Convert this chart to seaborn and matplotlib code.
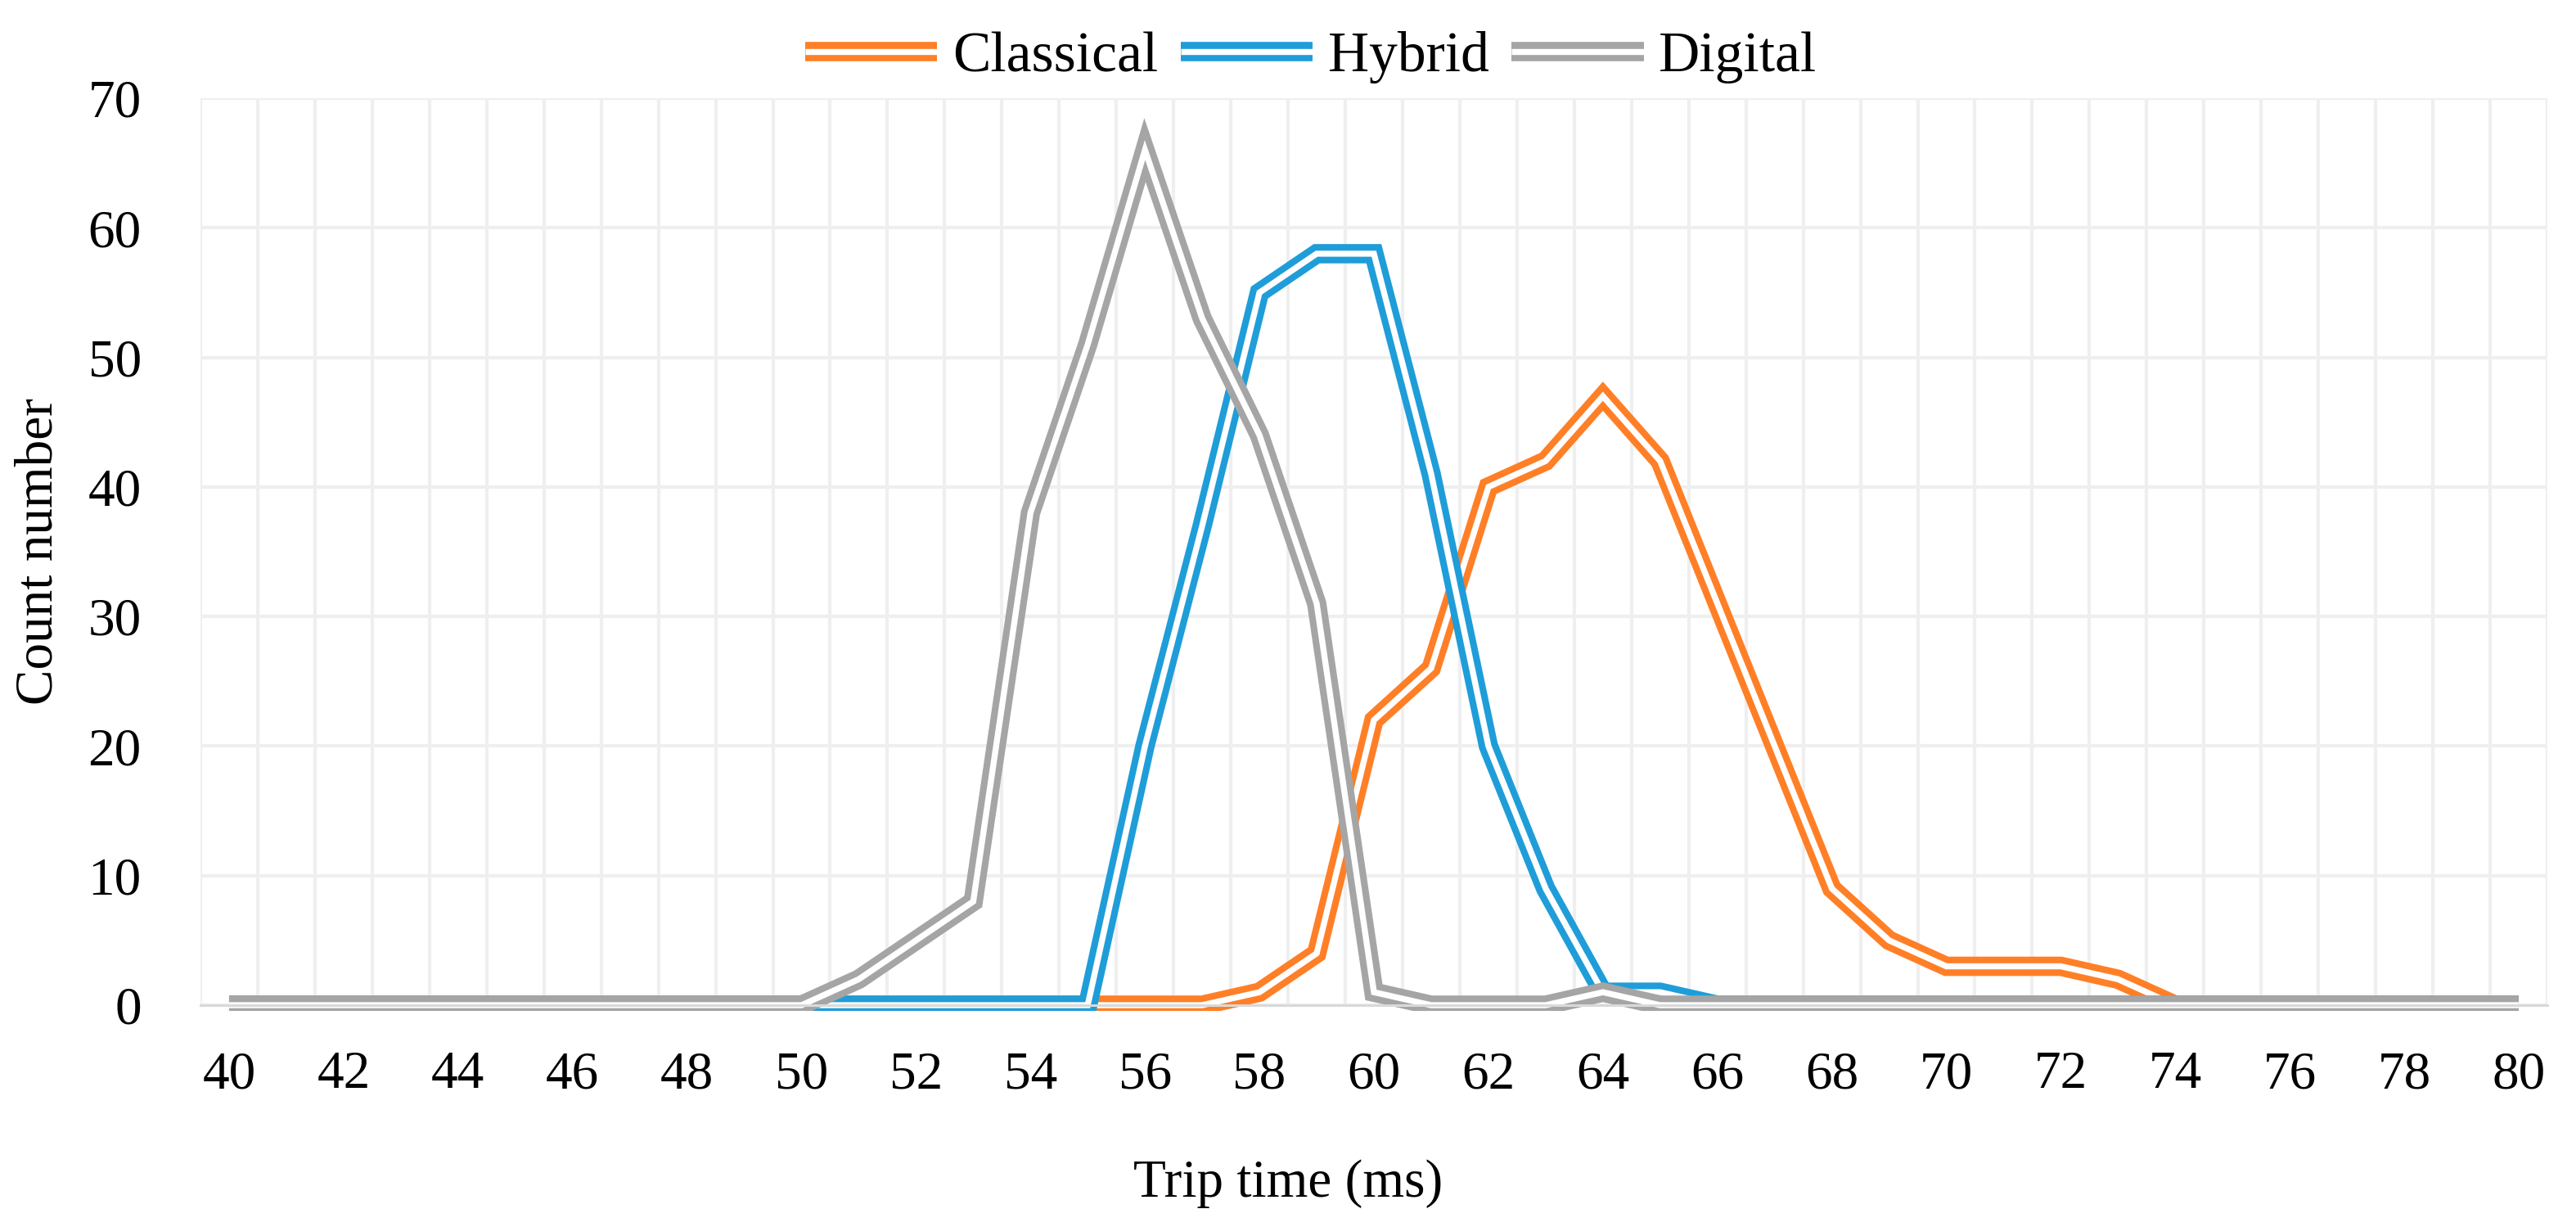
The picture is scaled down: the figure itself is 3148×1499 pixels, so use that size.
import matplotlib
matplotlib.use("Agg")
import numpy as np
import matplotlib.pyplot as plt
import seaborn as sns
from matplotlib.patches import Rectangle
from matplotlib.lines import Line2D

# Data: count number per trip time (ms)
trip_time = list(range(40, 81))
classical = [0, 0, 0, 0, 0, 0, 0, 0, 0, 0,          # 40-49
             0, 0, 0, 0, 0, 0, 0, 0, 1, 4,          # 50-59
             22, 26, 40, 42, 47, 42, 31, 20, 9, 5,  # 60-69
             3, 3, 3, 2, 0, 0, 0, 0, 0, 0,          # 70-79
             0]                                     # 80
hybrid = [0, 0, 0, 0, 0, 0, 0, 0, 0, 0,
          0, 0, 0, 0, 0, 0, 20, 37, 55, 58,
          58, 41, 20, 9, 1, 1, 0, 0, 0, 0,
          0, 0, 0, 0, 0, 0, 0, 0, 0, 0,
          0]
digital = [0, 0, 0, 0, 0, 0, 0, 0, 0, 0,
           0, 2, 5, 8, 38, 51, 66, 53, 44, 31,
           1, 0, 0, 0, 1, 0, 0, 0, 0, 0,
           0, 0, 0, 0, 0, 0, 0, 0, 0, 0,
           0]
series_names = ["Classical", "Hybrid", "Digital"]
series_colors = ["#FF7F27", "#1F9DD9", "#A5A5A5"]

sns.set_style("white")
plt.rcParams['font.family'] = ['Liberation Serif', 'DejaVu Serif']
plt.rcParams['text.color'] = 'black'
plt.rcParams['xtick.color'] = 'black'
plt.rcParams['ytick.color'] = 'black'

FS = 47
LW_OUT = 17
LW_GAP = 5.3

fig, ax = plt.subplots(figsize=(31.48, 14.99), dpi=100)
fig.subplots_adjust(left=245 / 3148, right=3113 / 3148,
                    top=1 - 120 / 1499, bottom=1 - 1228 / 1499)

# double ("compound") lines: thick coloured stroke with a white core
for name, vals, col in zip(series_names, [classical, hybrid, digital], series_colors):
    sns.lineplot(x=trip_time, y=vals, color=col, lw=LW_OUT, ax=ax,
                 solid_joinstyle='miter', solid_capstyle='butt')
    sns.lineplot(x=trip_time, y=vals, color='white', lw=LW_GAP, ax=ax,
                 solid_joinstyle='miter', solid_capstyle='butt')

for line in ax.lines:
    line.set_clip_path(Rectangle((0, -0.006), 1, 1.012, transform=ax.transAxes))

ax.set_xlim(39.5, 80.5)
ax.set_ylim(0, 70)
ax.set_xticks(range(40, 81, 2))
ax.set_xticks(np.arange(39.5, 81, 1), minor=True)
ax.set_yticks(range(0, 71, 10))
ax.set_axisbelow(True)
ax.grid(False)
ax.grid(which='minor', axis='x', color='#EFEFEF', lw=3)
ax.grid(which='major', axis='y', color='#EFEFEF', lw=3)
ax.tick_params(which='both', length=0)
ax.tick_params(axis='x', pad=40, labelsize=FS, labelcolor='black')
ax.tick_params(axis='y', pad=52, labelsize=FS, labelcolor='black')

for s in ['top', 'right', 'left']:
    ax.spines[s].set_visible(False)
ax.spines['bottom'].set_color('#D9D9D9')
ax.spines['bottom'].set_linewidth(2.2)

ax.set_xlabel("")
ax.set_ylabel("")
fig.text(0.5, 37 / 1499, "Trip time (ms)", fontsize=FS, ha='center', va='baseline',
         color='black')
fig.text(48 / 3148, 1 - 674 / 1499, "Count number", fontsize=FS, rotation=90,
         ha='center', va='center', color='black')

handles = [(Line2D([], [], color=c, lw=LW_OUT, solid_capstyle='butt'),
            Line2D([], [], color='white', lw=LW_GAP, solid_capstyle='butt'))
           for c in series_colors]
fig.legend(handles, series_names, loc='center', bbox_to_anchor=(0.509, 0.953),
           ncol=3, frameon=False, fontsize=50, handlelength=2.32,
           handletextpad=0.27, columnspacing=0.40, labelcolor='black')

fig.savefig("out.png", dpi=100)
